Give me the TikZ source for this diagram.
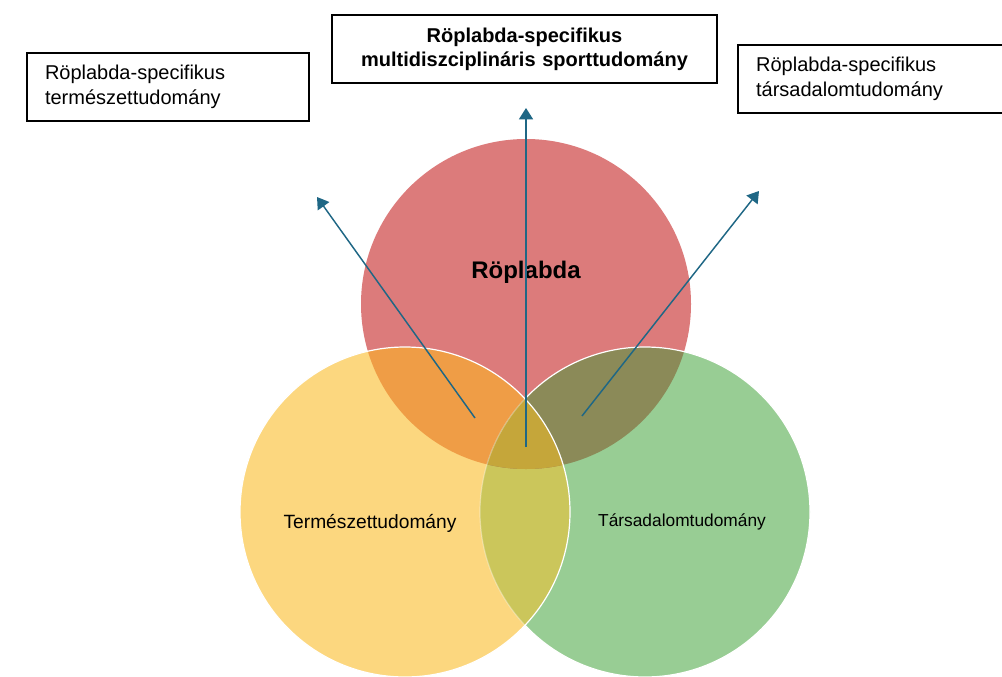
\documentclass[tikz,border=0pt]{standalone}
\usepackage{fontspec}
\setmainfont{Liberation Sans}
\usetikzlibrary{arrows.meta}
\definecolor{rose}{HTML}{DC7B7B}
\definecolor{sun}{HTML}{FCD77F}
\definecolor{leaf}{HTML}{98CD94}
\definecolor{orangemix}{HTML}{EF9D46}
\definecolor{olivemix}{HTML}{8B8A58}
\definecolor{limemix}{HTML}{CBC65B}
\definecolor{coremix}{HTML}{C5A63A}
\definecolor{linkblue}{HTML}{1F6785}
\newcommand\ballrad{123.75pt}

\begin{document}
\begin{tikzpicture}[x=0.75pt,y=-0.75pt,
 labelbox/.style={draw=black,line width=1.7pt,minimum height=51pt,inner xsep=13.5pt,
 inner ysep=0pt,text width=184.5pt,font=\fontsize{15}{18.75}\selectfont},
 link/.style={draw=linkblue,line width=1.1pt,-{Triangle[length=8.5pt,width=10.5pt]}},
 rim/.style={draw=white,line width=0.9pt}]
\useasboundingbox (0,0) rectangle (1002,677);
\coordinate (cR) at (526,304);
\coordinate (cY) at (405,512);
\coordinate (cG) at (645,512);
% circles and overlaps
\fill[rose] (cR) circle[radius=\ballrad];
\fill[leaf] (cG) circle[radius=\ballrad];
\fill[sun] (cY) circle[radius=\ballrad];
\begin{scope}
 \clip (cY) circle[radius=\ballrad];
 \fill[limemix] (cG) circle[radius=\ballrad];
\end{scope}
\begin{scope}
 \clip (cR) circle[radius=\ballrad];
 \fill[orangemix] (cY) circle[radius=\ballrad];
 \fill[olivemix] (cG) circle[radius=\ballrad];
 \clip (cY) circle[radius=\ballrad];
 \fill[coremix] (cG) circle[radius=\ballrad];
\end{scope}
\begin{scope}[even odd rule]
 \clip (0,0) rectangle (1002,677) (cY) circle[radius=\ballrad];
 \draw[rim] (cG) circle[radius=\ballrad];
\end{scope}
\begin{scope}
 \clip (cY) circle[radius=\ballrad];
 \draw[rim,draw opacity=0.35] (cG) circle[radius=\ballrad];
\end{scope}
\draw[rim] (cY) circle[radius=\ballrad];
% circle texts
\node[font=\bfseries\fontsize{18}{21}\selectfont] (tR) at (526,272) {Röplabda};
\node[font=\fontsize{14.4}{17}\selectfont] (tY) at (370,523) {Természettudomány};
\node[font=\fontsize{13}{16}\selectfont] (tG) at (682,522) {Társadalomtudomány};
% boxes
\node[labelbox,align=left] (bY) at (168,87) {Röplabda-specifikus\\természettudomány};
\node[labelbox,align=center,text width=261.75pt,font=\bfseries\fontsize{15}{18}\selectfont]
 (bM) at (524.5,49) {Röplabda-specifikus\\multidiszciplináris sporttudomány};
\node[labelbox,align=left,anchor=west] (bG) at (737,79) {Röplabda-specifikus\\társadalomtudomány};
% arrows
\coordinate (sY) at (475,418);
\coordinate (eY) at (317,197);
\coordinate (sM) at (526,447);
\coordinate (eM) at (526,108);
\coordinate (sG) at (582,416);
\coordinate (eG) at (759,191);
\foreach \a/\b in {sY/eY,sM/eM,sG/eG} \draw[link] (\a)--(\b);
\end{tikzpicture}
\end{document}
